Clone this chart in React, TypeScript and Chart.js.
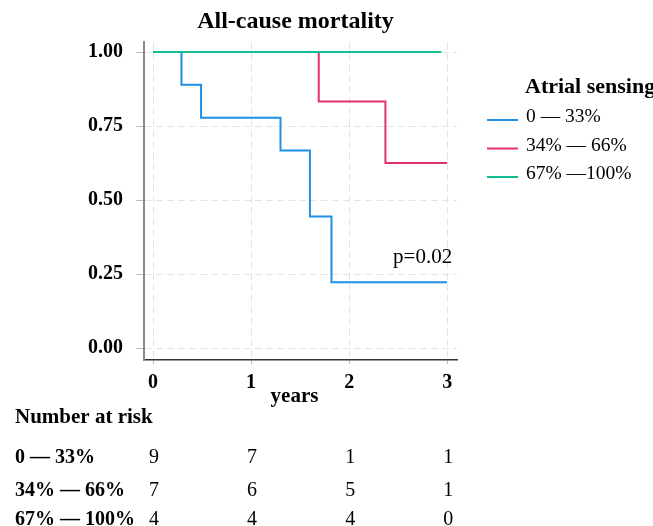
import React, { useEffect, useRef } from "react";
import { Chart, registerables } from "chart.js";

Chart.register(...registerables);

const FONT = "'Liberation Serif', 'Times New Roman', serif";

const groupLabels = ["0 — 33%", "34% — 66%", "67% —100%"];
const tableLabels = ["0 — 33%", "34% — 66%", "67% — 100%"];
const colors = ["#1E8FE6", "#E0336C", "#14BC93"];
const drawOrder = [1, 2, 0];

const blueTimes = [0, 0.29, 0.49, 1.3, 1.6, 1.82, 3.0];
const blueSurv = [1, 0.889, 0.778, 0.667, 0.444, 0.222, 0.222];
const redTimes = [0, 1.69, 2.37, 3.0];
const redSurv = [1, 0.833, 0.625, 0.625];
const greenTimes = [0, 2.94];
const greenSurv = [1, 1];

const xTicks = [0, 1, 2, 3];
const yTicks = [0, 0.25, 0.5, 0.75, 1];
const riskTimes = [0, 1, 2, 3];
const riskBlue = [9, 7, 1, 1];
const riskRed = [7, 6, 5, 1];
const riskGreen = [4, 4, 4, 0];

const titleText = "All-cause mortality";
const xTitle = "years";
const legendTitle = "Atrial sensing";
const pText = "p=0.02";
const riskTitle = "Number at risk";

const toPoints = (t: number[], s: number[]) => t.map((x, i) => ({ x, y: s[i] }));

const overlay = {
  id: "overlay",
  afterDraw(chart: any) {
    const ctx = chart.ctx;
    const xs = chart.scales.x;
    const ca = chart.chartArea;
    ctx.save();
    ctx.fillStyle = "#000";
    // title
    ctx.font = `bold 24px ${FONT}`;
    ctx.textAlign = "center";
    ctx.textBaseline = "alphabetic";
    ctx.fillText(titleText, (ca.left + ca.right) / 2 - 5, 28);
    // x title
    ctx.font = `bold 21px ${FONT}`;
    ctx.fillText(xTitle, (ca.left + ca.right) / 2 - 6, 402);
    // p value
    ctx.font = `21px ${FONT}`;
    ctx.textAlign = "right";
    ctx.fillText(pText, xs.getPixelForValue(3) + 5, 263);
    // legend
    ctx.textAlign = "left";
    ctx.font = `bold 22px ${FONT}`;
    ctx.fillText(legendTitle, 525, 93);
    ctx.font = `19.5px ${FONT}`;
    const legY = [120, 148.5, 177];
    chart.data.datasets.forEach((ds: any, i: number) => {
      ctx.strokeStyle = ds.borderColor;
      ctx.lineWidth = 2;
      ctx.beginPath();
      ctx.moveTo(487, legY[i]);
      ctx.lineTo(518, legY[i]);
      ctx.stroke();
      ctx.fillStyle = "#000";
      ctx.fillText(ds.label, 526, legY[i] + 2);
    });
    // risk table
    ctx.font = `bold 21px ${FONT}`;
    ctx.fillText(riskTitle, 15, 423);
    const rows = [riskBlue, riskRed, riskGreen];
    const rowY = [463, 496, 525];
    rows.forEach((r, i) => {
      ctx.font = `bold 20px ${FONT}`;
      ctx.textAlign = "left";
      ctx.fillText(tableLabels[i], 15, rowY[i]);
      ctx.font = `20px ${FONT}`;
      ctx.textAlign = "center";
      r.forEach((v, j) => {
        ctx.fillText(String(v), xs.getPixelForValue(riskTimes[j]) + 1, rowY[i]);
      });
    });
    ctx.restore();
  },
};

export default function App() {
  const ref = useRef<HTMLCanvasElement>(null);
  useEffect(() => {
    document.body.style.margin = "0";
    const chart = new Chart(ref.current!, {
      type: "line",
      data: {
        datasets: [
          { label: groupLabels[0], data: toPoints(blueTimes, blueSurv), borderColor: colors[0], order: drawOrder[0] },
          { label: groupLabels[1], data: toPoints(redTimes, redSurv), borderColor: colors[1], order: drawOrder[1] },
          { label: groupLabels[2], data: toPoints(greenTimes, greenSurv), borderColor: colors[2], order: drawOrder[2] },
        ].map((d) => ({ ...d, stepped: "before" as const, pointRadius: 0, borderWidth: 2, fill: false })),
      },
      options: {
        animation: false,
        responsive: false,
        layout: { padding: { left: 0, top: 42, right: 196, bottom: 136 } },
        plugins: { legend: { display: false }, tooltip: { enabled: false }, title: { display: false } },
        scales: {
          x: {
            type: "linear",
            min: -0.092,
            max: 3.1,
            afterBuildTicks: (s: any) => { s.ticks = xTicks.map((v) => ({ value: v })); },
            afterFit: (s: any) => { s.height = 30; },
            grid: { color: "#e4e4e4", tickColor: "#bbb", tickLength: 4, lineWidth: 1 },
            border: { color: "#333", width: 1.5, dash: [7, 4] },
            ticks: { font: { family: FONT, size: 20, weight: "bold" }, color: "#000", padding: 7, maxRotation: 0, callback: (v: any) => String(v) },
          },
          y: {
            type: "linear",
            min: -0.0405,
            max: 1.0338,
            afterBuildTicks: (s: any) => { s.ticks = yTicks.map((v) => ({ value: v })); },
            afterFit: (s: any) => { s.width = 144; },
            grid: { color: "#e4e4e4", tickColor: "#bbb", tickLength: 8, lineWidth: 1 },
            border: { color: "#888", width: 2, dash: [7, 4] },
            ticks: { font: { family: FONT, size: 20, weight: "bold" }, color: "#000", padding: 13, callback: (v: any) => Number(v).toFixed(2) },
          },
        },
      },
      plugins: [overlay],
    });
    return () => chart.destroy();
  }, []);
  return (
    <div style={{ position: "relative", width: 653, height: 526 }}>
      <canvas ref={ref} width={653} height={526} style={{ display: "block" }} />
    </div>
  );
}
